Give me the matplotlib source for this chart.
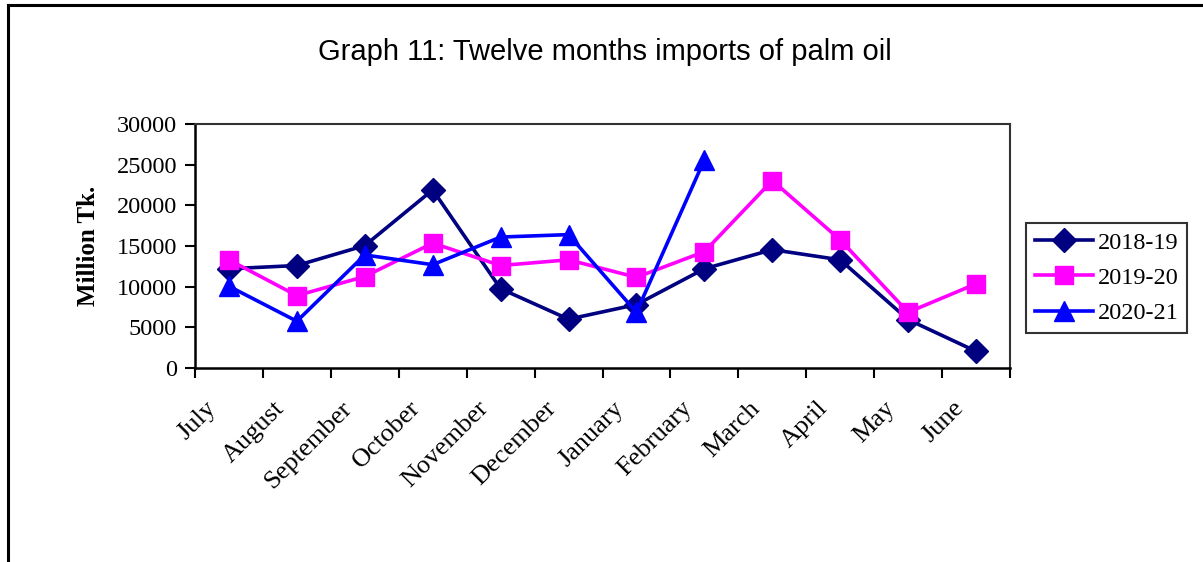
import numpy as np
import matplotlib.pyplot as plt
from matplotlib.lines import Line2D

# Data
months = ['July', 'August', 'September', 'October', 'November', 'December',
          'January', 'February', 'March', 'April', 'May', 'June']
y2018_19 = [12200, 12600, 15050, 21900, 9750, 6000, 7800, 12200, 14550, 13300, 5950, 2050]
y2019_20 = [13300, 8900, 11250, 15350, 12600, 13300, 11150, 14300, 23050, 15750, 6850, 10350]
y2020_21 = [10050, 5750, 13900, 12700, 16100, 16400, 6850, 25600]
yticks = [0, 5000, 10000, 15000, 20000, 25000, 30000]

serif = ['Liberation Serif', 'DejaVu Serif']
fs = 17.5

fig = plt.figure(figsize=(12.03, 5.62), dpi=100)
ax = fig.add_axes([195 / 1203, 1 - 368 / 562, 815 / 1203, 244 / 562])

x = np.arange(len(months))
ax.plot(x, y2018_19, color='#000080', lw=2.6, marker='D', ms=12, label='2018-19')
ax.plot(x, y2019_20, color='#FF00FF', lw=2.6, marker='s', ms=12.5, label='2019-20')
ax.plot(x[:len(y2020_21)], y2020_21, color='#0000FF', lw=2.6, marker='^', ms=15, label='2020-21')

ax.set_xlim(-0.5, len(months) - 0.5)
ax.set_ylim(0, 30000)
ax.set_yticks(yticks)
ax.set_yticklabels([str(v) for v in yticks], family=serif, fontsize=fs)

# ticks between categories, rotated labels ending just left of each category centre
ax.set_xticks(np.arange(-0.5, len(months)), minor=False)
ax.set_xticklabels([])
ax.set_xticks(x - 0.35, minor=True)
ax.set_xticklabels(months, minor=True, rotation=45, ha='right',
                   rotation_mode='anchor', family=serif, fontsize=19)
ax.tick_params(axis='x', which='minor', length=0, pad=21)
ax.tick_params(axis='x', which='major', length=7, width=1.5, direction='out')
ax.tick_params(axis='y', length=7, width=1.5, direction='out', pad=6)

for s in ['left', 'bottom']:
    ax.spines[s].set_linewidth(1.8)
    ax.spines[s].set_color('black')
for s in ['top', 'right']:
    ax.spines[s].set_linewidth(1.5)
    ax.spines[s].set_color('#333333')

ax.set_ylabel('Million Tk.', family=serif, fontsize=18, fontweight='bold', labelpad=12)

fig.text(605 / 1203, 1 - 52 / 562, 'Graph 11: Twelve months imports of palm oil',
         ha='center', va='center', family='Liberation Sans', fontsize=21)

leg = ax.legend(loc='upper left', bbox_to_anchor=(1026 / 1203, 1 - 223 / 562),
                bbox_transform=fig.transFigure, prop={'family': serif, 'size': fs},
                frameon=True, fancybox=False, handlelength=2.4, borderpad=0.35,
                labelspacing=0.55, handletextpad=0.2, borderaxespad=0)
leg.get_frame().set_edgecolor('black')
leg.get_frame().set_linewidth(1.5)

# outer chart frame
fig.add_artist(Line2D([8 / 1203, 8 / 1203], [0, 1 - 5 / 562], transform=fig.transFigure,
                      color='black', lw=2.2))
fig.add_artist(Line2D([8 / 1203, 1], [1 - 5 / 562, 1 - 5 / 562], transform=fig.transFigure,
                      color='black', lw=2.2))

fig.savefig('out.png', dpi=100)
